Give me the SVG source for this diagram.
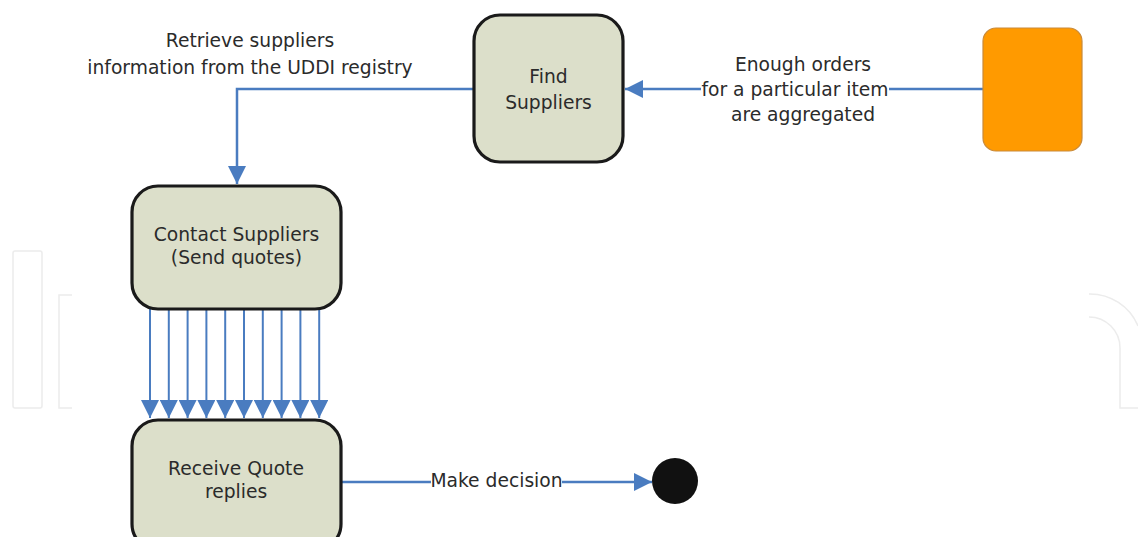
<svg xmlns="http://www.w3.org/2000/svg" width="1138" height="537" viewBox="0 0 1138 537">
<defs>
<marker id="ah" markerUnits="userSpaceOnUse" markerWidth="18" markerHeight="18" refX="18" refY="9" orient="auto" viewBox="0 0 18 18">
<path d="M0,0 L18,9 L0,18 z" fill="#4a7cc0"/>
</marker>
<style>
.box{fill:#dcdfca;stroke:#1a1a1a;stroke-width:3.2}
.lbl{font-family:"DejaVu Sans",Verdana,sans-serif;font-size:18.7px;fill:#2b2b2b;text-anchor:middle}
.ln{fill:none;stroke:#4a7cc0;stroke-width:2.5}
.ln2{fill:none;stroke:#4a7cc0;stroke-width:2}
.wm{fill:none;stroke:#ececec;stroke-width:1.5}
</style>
</defs>
<rect width="1138" height="537" fill="#ffffff"/>
<g id="watermark">
<rect class="wm" x="13" y="251" width="29" height="157" rx="2"/>
<path class="wm" d="M72,295 H59 V408 H72"/>
<path class="wm" d="M1089,294 A52,52 0 0 1 1138,326"/>
<path class="wm" d="M1089,317 A31,31 0 0 1 1120,348 V408 H1138"/>
</g>
<g id="connectors">
<path class="ln" d="M983,89 H889"/>
<path class="ln" d="M701,89 H625" marker-end="url(#ah)"/>
<path class="ln" d="M474,89 H237 V184" marker-end="url(#ah)"/>
<path class="ln2" d="M150,309 V418" marker-end="url(#ah)"/>
<path class="ln2" d="M168.8,309 V418" marker-end="url(#ah)"/>
<path class="ln2" d="M187.6,309 V418" marker-end="url(#ah)"/>
<path class="ln2" d="M206.4,309 V418" marker-end="url(#ah)"/>
<path class="ln2" d="M225.2,309 V418" marker-end="url(#ah)"/>
<path class="ln2" d="M244,309 V418" marker-end="url(#ah)"/>
<path class="ln2" d="M262.8,309 V418" marker-end="url(#ah)"/>
<path class="ln2" d="M281.6,309 V418" marker-end="url(#ah)"/>
<path class="ln2" d="M300.4,309 V418" marker-end="url(#ah)"/>
<path class="ln2" d="M319.2,309 V418" marker-end="url(#ah)"/>
<path class="ln" d="M341,482 H431"/>
<path class="ln" d="M562,482 H652" marker-end="url(#ah)"/>
<text class="lbl"><tspan x="250" y="46.5">Retrieve suppliers</tspan><tspan x="250" y="73.5">information from the UDDI registry</tspan></text>
<text class="lbl"><tspan x="803" y="70.5">Enough orders</tspan><tspan x="795" y="96">for a particular item</tspan><tspan x="803" y="121">are aggregated</tspan></text>
<text class="lbl" x="496.5" y="487">Make decision</text>
</g>
<g id="find-suppliers">
<rect class="box" x="474" y="15" width="149" height="147" rx="26"/>
<text class="lbl"><tspan x="548.5" y="83">Find</tspan><tspan x="548.5" y="109">Suppliers</tspan></text>
</g>
<g id="trigger">
<rect x="983" y="28" width="99" height="123" rx="13" fill="#ff9a00" stroke="#c98a3a" stroke-width="1.2"/>
</g>
<g id="contact-suppliers">
<rect class="box" x="132" y="186" width="209" height="123" rx="26"/>
<text class="lbl"><tspan x="236.5" y="241">Contact Suppliers</tspan><tspan x="236.5" y="264">(Send quotes)</tspan></text>
</g>
<g id="receive-quote">
<rect class="box" x="132" y="420" width="209" height="130" rx="26"/>
<text class="lbl"><tspan x="236" y="475">Receive Quote</tspan><tspan x="236" y="498">replies</tspan></text>
</g>
<g id="final">
<circle cx="675" cy="481" r="23" fill="#111"/>
</g>
</svg>
